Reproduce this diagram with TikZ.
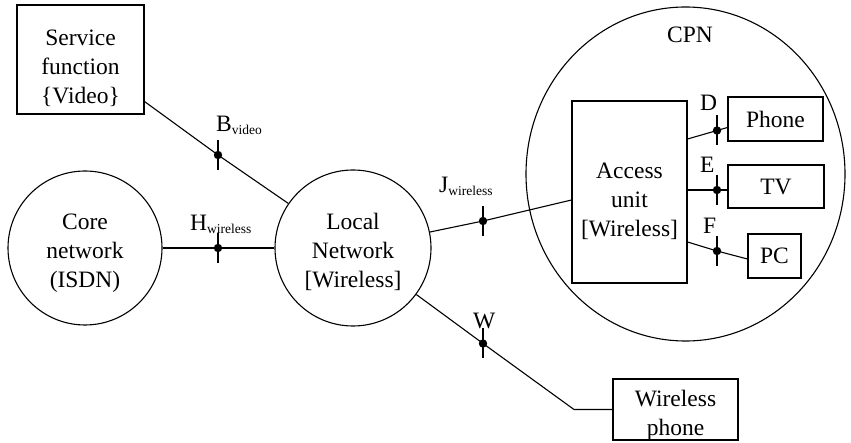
\documentclass[tikz,border=0pt]{standalone}
\usepackage{fontspec}
\setmainfont{Liberation Serif}
\usetikzlibrary{calc,shapes.geometric}
\newcommand\lowsub[1]{\raisebox{-3pt}{\fontsize{13.5}{14}\selectfont #1}}
\begin{document}
\begin{tikzpicture}[x=1pt,y=-1pt,
  every node/.style={font=\fontsize{23.5}{29}\selectfont, align=center, inner sep=0pt},
  box/.style={draw, line width=1.1pt},
  circ/.style={draw, circle, line width=1.1pt},
  conn/.style={line width=1.1pt},
  tickmark/.style={line width=2pt},
  lbl/.style={anchor=base west}]
\useasboundingbox (0,0) rectangle (851,443);

% main nodes
\node[box, minimum width=127pt, minimum height=109pt] (svc) at (80.5,59.5) {};
\node (svctxt) at (80.5,68) {Service\\function\\\{Video\}};
\node[circ, minimum size=154pt] (core) at (85,248) {};
\node (coretxt) at (85,253) {Core\\network\\(ISDN)};
\node[circ, minimum size=156pt] (local) at (353,248) {};
\node (localtxt) at (353,252) {Local\\Network\\{}[Wireless]};
\node[draw, ellipse, line width=1.1pt, minimum width=319pt, minimum height=334pt] (cpn) at (685.5,174) {};
\node[anchor=base] (cpnlbl) at (690,43) {CPN};
\node[box, minimum width=115pt, minimum height=182pt] (acc) at (629.5,192) {};
\node (acctxt) at (629.5,201.5) {Access\\unit\\{}[Wireless]};
\node[box, minimum width=95pt, minimum height=44pt] (phone) at (775.5,119) {Phone};
\node[box, minimum width=96pt, minimum height=43pt] (tv) at (776,186.5) {TV};
\node[box, minimum width=53pt, minimum height=44pt] (pc) at (774.5,256) {PC};
\node[box, minimum width=125pt, minimum height=61pt] (wph) at (675.5,409.5) {};
\node (wphtxt) at (675.5,415.5) {Wireless\\phone};

% reference points (tick positions)
\coordinate (tB) at (218,155);
\coordinate (tH) at (218,248);
\coordinate (tJ) at (483,221);
\coordinate (tD) at (717,130.5);
\coordinate (tE) at (717,190);
\coordinate (tF) at (717,251);
\coordinate (tW) at (483,343.5);
\coordinate (bend) at (574,409.5);

% connectors
\draw[conn] ($(svc.south east)+(0,-13)$) -- (tB) -- (local);
\draw[conn] (core) -- (tH) -- (local);
\draw[conn] (local) -- (tJ) -- ($(acc.west)+(0,8)$);
\draw[conn] ($(acc.east)+(0,-53)$) -- (tD) -- ($(phone.west)+(0,8.5)$);
\draw[conn] ($(acc.east)+(0,-2)$) -- (tE) -- ($(tv.west)+(0,3.5)$);
\draw[conn] ($(acc.east)+(0,50)$) -- (tF) -- ($(pc.west)+(0,3)$);
\draw[conn] (local) -- (tW) -- (bend) -- (wph.west);

% ticks
\foreach \t in {tB,tH,tJ,tD,tE,tF,tW}{
  \draw[tickmark] ($(\t)+(0,-15)$) -- ($(\t)+(0,15)$);
  \fill (\t) circle (4.2);
}

% labels
\node[lbl] (lB) at (216,132) {B\lowsub{video}};
\node[lbl] (lH) at (190,231) {H\lowsub{wireless}};
\node[lbl] (lJ) at (439,193) {J\lowsub{wireless}};
\node[lbl] (lD) at (700,111) {D};
\node[lbl] (lE) at (700,173) {E};
\node[lbl] (lF) at (703,234) {F};
\node[lbl] (lW) at (473,329) {W};
\end{tikzpicture}
\end{document}
